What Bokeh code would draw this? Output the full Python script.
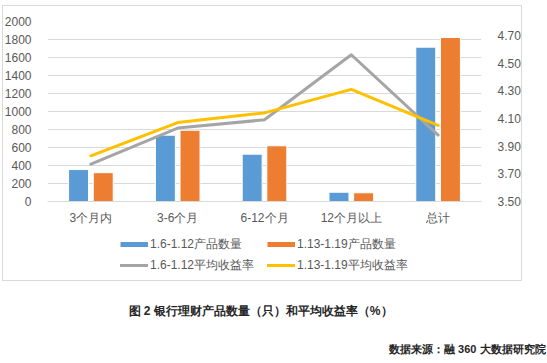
from bokeh.plotting import figure
from bokeh.models import (FactorRange, Range1d, LinearAxis, FixedTicker, NumeralTickFormatter,
                          ColumnDataSource, Legend, LegendItem, Label, Title)
from bokeh.transform import dodge
from bokeh.embed import file_html
from bokeh.resources import INLINE

categories = ["3个月内", "3-6个月", "6-12个月", "12个月以上", "总计"]
count_a = [355, 737, 526, 103, 1715]     # 1.6-1.12产品数量
count_b = [320, 792, 619, 97, 1822]      # 1.13-1.19产品数量
yield_a = [3.77, 4.03, 4.09, 4.56, 3.98] # 1.6-1.12平均收益率
yield_b = [3.83, 4.07, 4.14, 4.31, 4.05] # 1.13-1.19平均收益率
left_ticks = [0, 200, 400, 600, 800, 1000, 1200, 1400, 1600, 1800, 2000]
right_ticks = [3.5, 3.7, 3.9, 4.1, 4.3, 4.5, 4.7]
legend_labels = ["1.6-1.12产品数量", "1.13-1.19产品数量", "1.6-1.12平均收益率", "1.13-1.19平均收益率"]
caption = "图 2 银行理财产品数量（只）和平均收益率（%）"
source_note = "数据来源：融 360 大数据研究院"

BLUE, ORANGE, GRAY, YELLOW = "#5B9BD5", "#ED7D31", "#A5A5A5", "#FFC000"
TXT = "#595959"
FONT = "Liberation Sans"
EDGE = "#D9D9D9"

src = ColumnDataSource(dict(cat=categories, a=count_a, b=count_b, ya=yield_a, yb=yield_b))

# layout (pixels): value area spans y 21..201 of the canvas; the frame is extended
# down to y=340 so that the legend and caption can live inside it.
W, H = 547, 363
LEFT, RIGHT = 47, 481
TOP, ZERO, BOT = 21, 201, 340
L_MAX, R_MIN, R_MAX = 2000, 3.5, 4.8
px_l = (ZERO - TOP) / L_MAX
px_r = (ZERO - TOP) / (R_MAX - R_MIN)

p = figure(width=W, height=H, output_backend="svg", toolbar_location=None,
           x_range=FactorRange(*categories, range_padding=0),
           y_range=Range1d(-(BOT - ZERO) / px_l, L_MAX),
           min_border_left=LEFT, min_border_right=W - RIGHT, min_border_top=TOP,
           min_border_bottom=H - BOT)
p.extra_y_ranges = {"right": Range1d(R_MIN - (BOT - ZERO) / px_r, R_MAX)}
p.outline_line_color = None
p.border_fill_color = None
p.background_fill_color = None
p.xgrid.grid_line_color = None
p.ygrid.grid_line_color = EDGE
p.ygrid.ticker = FixedTicker(ticks=left_ticks)

# outer chart box drawn as a CSS background behind the transparent canvas
grad = "linear-gradient(#D9D9D9,#D9D9D9)"
p.styles = {
    "background-color": "white",
    "background-image": ",".join([grad] * 4),
    "background-size": "520px 1px, 1px 276px, 1px 276px, 520px 1px",
    "background-position": "2px 5px, 2px 5px, 521px 5px, 2px 280px",
    "background-repeat": "no-repeat",
}

ly = p.yaxis[0]
ly.ticker = FixedTicker(ticks=left_ticks)
ra = LinearAxis(y_range_name="right", ticker=FixedTicker(ticks=right_ticks),
                formatter=NumeralTickFormatter(format="0.00"))
p.add_layout(ra, "right")
for ax in [ly, ra]:
    ax.axis_line_color = None
    ax.major_tick_line_color = None
    ax.minor_tick_line_color = None
    ax.major_label_standoff = 10
    ax.major_label_text_font = FONT
    ax.major_label_text_font_size = "12px"
    ax.major_label_text_color = TXT

xa = p.xaxis[0]
xa.fixed_location = 0
xa.axis_line_color = EDGE
xa.major_tick_line_color = None
xa.minor_tick_line_color = None
xa.major_label_standoff = 3
xa.major_label_text_font = FONT
xa.major_label_text_font_size = "12px"
xa.major_label_text_color = TXT

# bars
p.vbar(x=dodge("cat", -0.142, range=p.x_range), top="a", width=0.23, source=src,
       fill_color=BLUE, line_color="white", line_width=1)
p.vbar(x=dodge("cat", 0.142, range=p.x_range), top="b", width=0.23, source=src,
       fill_color=ORANGE, line_color="white", line_width=1)

# lines
rl_a = p.line(x="cat", y="ya", y_range_name="right", source=src, line_color=GRAY, line_width=3,
              line_join="round", line_cap="round")
rl_b = p.line(x="cat", y="yb", y_range_name="right", source=src, line_color=YELLOW, line_width=3,
              line_join="round", line_cap="round")

# hidden line renderers that only provide the bar-series legend swatches
sw_a = p.line(x="cat", y="a", source=src, line_color=BLUE, line_width=5, line_cap="butt",
              visible=False)
sw_b = p.line(x="cat", y="b", source=src, line_color=ORANGE, line_width=5, line_cap="butt",
              visible=False)

positions = [(120, 244), (267, 244), (120, 265), (267, 265)]
for r, lab, (fx, fy) in zip([sw_a, sw_b, rl_a, rl_b], legend_labels, positions):
    p.add_layout(Legend(items=[LegendItem(label=lab, renderers=[r])],
                        location=(fx - LEFT, BOT - (fy + 10)),
                        glyph_width=28, glyph_height=20, label_height=20, label_standoff=2,
                        padding=0, margin=0, spacing=0,
                        border_line_color=None, background_fill_alpha=0,
                        label_text_font=FONT, label_text_font_size="12px",
                        label_text_color=TXT))

p.add_layout(Label(x=128 - LEFT, y=BOT - 310, x_units="screen", y_units="screen",
                   text=caption, text_font=FONT, text_font_size="12px", text_font_style="bold",
                   text_color="#262626", text_baseline="middle"))

p.add_layout(Title(text=source_note, align="right", offset=-64, standoff=0,
                   text_font=FONT, text_font_size="11px", text_font_style="bold",
                   text_color="#262626"), "below")

open("out.html", "w").write(file_html(p, INLINE))
